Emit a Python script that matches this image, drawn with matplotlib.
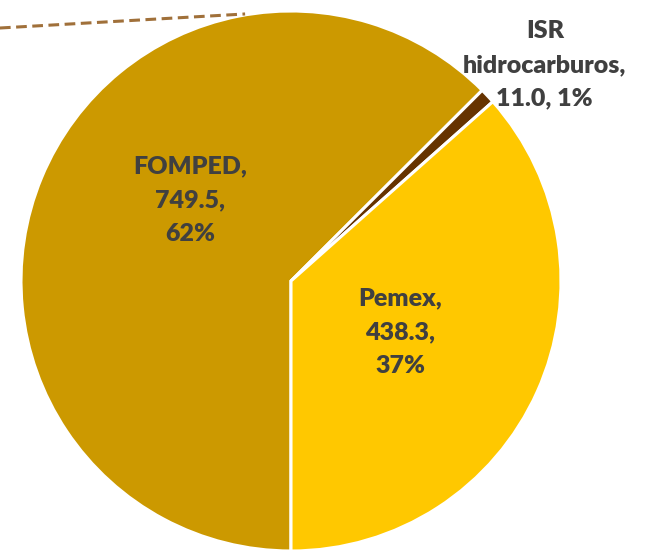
import matplotlib
matplotlib.use("Agg")
import matplotlib.pyplot as plt

# datos (miles de millones de pesos)
categorias = ["FOMPED", "ISR\nhidrocarburos", "Pemex"]
valores = [749.5, 11.0, 438.3]
porcentajes = [62, 1, 37]
colores = ["#CC9900", "#663300", "#FFC800"]

fig = plt.figure(figsize=(6.46, 5.5), dpi=100)
ax = fig.add_axes([0, 0, 1, 1])

wedges, _ = ax.pie(
    valores,
    colors=colores,
    startangle=-90,
    counterclock=False,
    radius=1.0,
    wedgeprops=dict(edgecolor="white", linewidth=2.2),
)

# posiciones de etiquetas (coordenadas en unidades del radio)
pos_etiquetas = [(-0.374, 0.30), (0.94, 0.80), (0.404, -0.19)]
for nombre, v, pct, (x, y) in zip(categorias, valores, porcentajes, pos_etiquetas):
    if nombre.startswith("ISR"):
        txt = f"{nombre},\n{v:.1f}, {pct}%"
    else:
        txt = f"{nombre},\n{v:.1f},\n{pct}%"
    ax.text(x, y, txt, ha="center", va="center", fontsize=18,
            fontweight="heavy", color="#404040", family="Lato",
            linespacing=1.65)

# línea guía punteada (resto de otro gráfico)
ax.plot([-1.078, -0.17], [0.937, 0.989], color="#A0703A", lw=2.2,
        ls=(0, (3.5, 1.8)), solid_capstyle="butt")

ax.set_xlim(-1.0778, 1.3148)
ax.set_ylim(-0.9963, 1.0407)
ax.set_aspect("equal")
ax.axis("off")

fig.savefig("out.png", dpi=100)
